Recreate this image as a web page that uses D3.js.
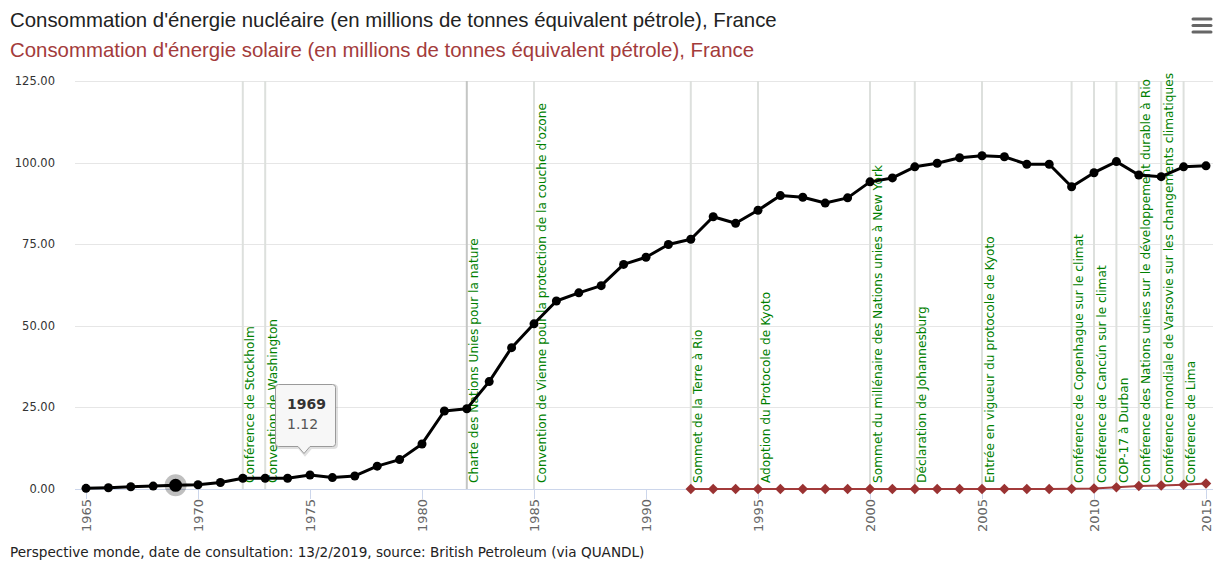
<!DOCTYPE html>
<html>
<head>
<meta charset="utf-8">
<script src="https://cdn.jsdelivr.net/npm/d3@7/dist/d3.min.js"></script>
<style>
  html, body { margin: 0; padding: 0; background: #fff; }
  svg { display: block; }
</style>
</head>
<body>
<svg id="chart" width="1215" height="565"></svg>
<script>
// ---------------- DATA ----------------
const years = d3.range(1965, 2016);
const nuclearValues = [
  0.2, 0.4, 0.7, 0.9, 1.12, 1.3, 2.0, 3.3, 3.3, 3.3,
  4.3, 3.5, 4.0, 7.0, 9.0, 13.8, 23.9, 24.6, 32.9, 43.3,
  50.6, 57.6, 60.1, 62.3, 68.8, 71.0, 74.9, 76.5, 83.4, 81.4,
  85.4, 89.9, 89.4, 87.6, 89.2, 94.1, 95.3, 98.7, 99.8, 101.5,
  102.1, 101.8, 99.5, 99.5, 92.6, 96.9, 100.3, 96.2, 95.7, 98.7,
  99.0
];
const solarYears = d3.range(1992, 2016);
const solarValues = [
  0.0, 0.0, 0.0, 0.0, 0.0, 0.0, 0.0, 0.0, 0.0, 0.0,
  0.0, 0.0, 0.0, 0.0, 0.0, 0.0, 0.0, 0.04, 0.14, 0.5,
  0.91, 1.07, 1.33, 1.66
];
const eventYears = [1972, 1973, 1982, 1985, 1992, 1995, 2000, 2002, 2005, 2009, 2010, 2011, 2012, 2013, 2014];
const eventLabels = [
  "Conférence de Stockholm",
  "Convention de Washington",
  "Charte des Nations Unies pour la nature",
  "Convention de Vienne pour la protection de la couche d'ozone",
  "Sommet de la Terre à Rio",
  "Adoption du Protocole de Kyoto",
  "Sommet du millénaire des Nations unies à New York",
  "Déclaration de Johannesburg",
  "Entrée en vigueur du protocole de Kyoto",
  "Conférence de Copenhague sur le climat",
  "Conférence de Cancún sur le climat",
  "COP-17 à Durban",
  "Conférence des Nations unies sur le développement durable à Rio",
  "Conférence mondiale de Varsovie sur les changements climatiques",
  "Conférence de Lima"
];
const yTicks = [0, 25, 50, 75, 100, 125];
const xTicks = [1965, 1970, 1975, 1980, 1985, 1990, 1995, 2000, 2005, 2010, 2015];
const titleNuclear = "Consommation d'énergie nucléaire (en millions de tonnes équivalent pétrole), France";
const titleSolar = "Consommation d'énergie solaire (en millions de tonnes équivalent pétrole), France";
const credits = "Perspective monde, date de consultation: 13/2/2019, source: British Petroleum (via QUANDL)";
const tooltipYear = 1969;

// ---------------- LAYOUT ----------------
const svg = d3.select("#chart");
const plotLeft = 75, plotRight = 1213, plotTop = 81, plotBottom = 489;
const x = d3.scaleLinear().domain([1965, 2015]).range([86, 1206]);
const y = d3.scaleLinear().domain([0, 125]).range([plotBottom, plotTop]);
const redColor = "#a33b3b";

// Titles
svg.append("text").attr("x", 10).attr("y", 27)
  .attr("font-family", "Liberation Sans, Arial, sans-serif").attr("font-size", 20.4)
  .attr("fill", "#222").text(titleNuclear);
svg.append("text").attr("x", 10).attr("y", 57)
  .attr("font-family", "Liberation Sans, Arial, sans-serif").attr("font-size", 20.4)
  .attr("fill", redColor).text(titleSolar);

// Menu icon
const menu = svg.append("g").attr("stroke", "#666").attr("stroke-width", 3).attr("stroke-linecap", "round");
[19, 25.5, 32].forEach(yy => menu.append("line").attr("x1", 1193).attr("x2", 1211).attr("y1", yy).attr("y2", yy));

// Grid
svg.append("g").selectAll("line").data(yTicks.filter(d => d !== 0)).join("line")
  .attr("x1", plotLeft).attr("x2", plotRight)
  .attr("y1", d => Math.round(y(d)) + 0.5).attr("y2", d => Math.round(y(d)) + 0.5)
  .attr("stroke", "#e6e6e6").attr("stroke-width", 1);

// Y labels
svg.append("g").selectAll("text").data(yTicks).join("text")
  .attr("x", 55).attr("y", d => y(d) + 4)
  .attr("text-anchor", "end")
  .attr("font-family", "DejaVu Sans, Verdana, sans-serif").attr("font-size", 11.5)
  .attr("fill", "#333").text(d3.format(".2f"));

// Plot lines (events)
const ev = svg.append("g");
ev.selectAll("line").data(eventYears).join("line")
  .attr("x1", d => x(d)).attr("x2", d => x(d))
  .attr("y1", plotTop).attr("y2", plotBottom)
  .attr("stroke", d => d === 1982 ? "#c4c6c4" : "#dde0dd").attr("stroke-width", 2);

// X axis
const xAxis = svg.append("g");
xAxis.append("line").attr("x1", plotLeft).attr("x2", plotRight)
  .attr("y1", plotBottom + 0.5).attr("y2", plotBottom + 0.5)
  .attr("stroke", "#ccd6eb").attr("stroke-width", 1);
xAxis.selectAll("line.tick").data(xTicks).join("line").attr("class", "tick")
  .attr("x1", d => Math.round(x(d)) + 0.5).attr("x2", d => Math.round(x(d)) + 0.5)
  .attr("y1", plotBottom).attr("y2", plotBottom + 10)
  .attr("stroke", "#ccd6eb").attr("stroke-width", 1);
xAxis.selectAll("text").data(xTicks).join("text")
  .attr("transform", d => `translate(${x(d) + 4.5},499) rotate(-90)`)
  .attr("text-anchor", "end")
  .attr("font-family", "DejaVu Sans, Verdana, sans-serif").attr("font-size", 13)
  .attr("fill", "#666").text(d => d);

// Event labels
ev.selectAll("text").data(eventYears).join("text")
  .attr("transform", d => `translate(${x(d) + 11.5},483) rotate(-90)`)
  .attr("font-family", "DejaVu Sans, Verdana, sans-serif").attr("font-size", 12.2)
  .attr("fill", "#008000")
  .text((d, i) => eventLabels[i]);

// Series: solar
const solarData = solarYears.map((yr, i) => ({ yr, v: solarValues[i] }));
const line = d3.line().x(d => x(d.yr)).y(d => y(d.v));
svg.append("path").datum(solarData).attr("d", line)
  .attr("fill", "none").attr("stroke", redColor).attr("stroke-width", 2);
svg.append("g").selectAll("path").data(solarData).join("path")
  .attr("d", d3.symbol(d3.symbolDiamond2, 70))
  .attr("transform", d => `translate(${x(d.yr)},${y(d.v)})`)
  .attr("fill", "#9a3232");

// Series: nuclear
const nucData = years.map((yr, i) => ({ yr, v: nuclearValues[i] }));
svg.append("path").datum(nucData).attr("d", line)
  .attr("fill", "none").attr("stroke", "#000").attr("stroke-width", 3).attr("stroke-linejoin", "round");
// Hover halo
const hov = nucData.find(d => d.yr === tooltipYear);
svg.append("circle").attr("cx", x(hov.yr)).attr("cy", y(hov.v)).attr("r", 11)
  .attr("fill", "#000").attr("fill-opacity", 0.25);
svg.append("g").selectAll("circle").data(nucData).join("circle")
  .attr("cx", d => x(d.yr)).attr("cy", d => y(d.v))
  .attr("r", d => d.yr === tooltipYear ? 6.5 : 4.5)
  .attr("fill", "#000");

// Credits
svg.append("text").attr("x", 10).attr("y", 557)
  .attr("font-family", "DejaVu Sans, Verdana, sans-serif").attr("font-size", 13.6)
  .attr("fill", "#222").text(credits);

// Tooltip
const tt = svg.append("g");
const tL = 275.5, tR = 335.5, tT = 384.5, tB = 446.5, tipX = 304, tipY = 453.5, r = 3;
const tPath = `M${tL + r},${tT} L${tR - r},${tT} Q${tR},${tT} ${tR},${tT + r} L${tR},${tB - r} Q${tR},${tB} ${tR - r},${tB}
  L${tipX + 6},${tB} L${tipX},${tipY} L${tipX - 6},${tB} L${tL + r},${tB} Q${tL},${tB} ${tL},${tB - r} L${tL},${tT + r} Q${tL},${tT} ${tL + r},${tT} Z`;
tt.append("path").attr("d", tPath).attr("transform", "translate(1,1)")
  .attr("fill", "none").attr("stroke", "#000").attr("stroke-opacity", 0.12).attr("stroke-width", 3);
tt.append("path").attr("d", tPath).attr("fill", "#f7f7f7").attr("fill-opacity", 0.95)
  .attr("stroke", "#9a9a9a").attr("stroke-width", 1);
tt.append("text").attr("x", 287).attr("y", 409)
  .attr("font-family", "DejaVu Sans, Verdana, sans-serif").attr("font-size", 14).attr("font-weight", "bold")
  .attr("fill", "#333").text(hov.yr);
tt.append("text").attr("x", 287).attr("y", 429)
  .attr("font-family", "DejaVu Sans, Verdana, sans-serif").attr("font-size", 14)
  .attr("fill", "#555").text(d3.format(".2f")(hov.v));
</script>
</body>
</html>
